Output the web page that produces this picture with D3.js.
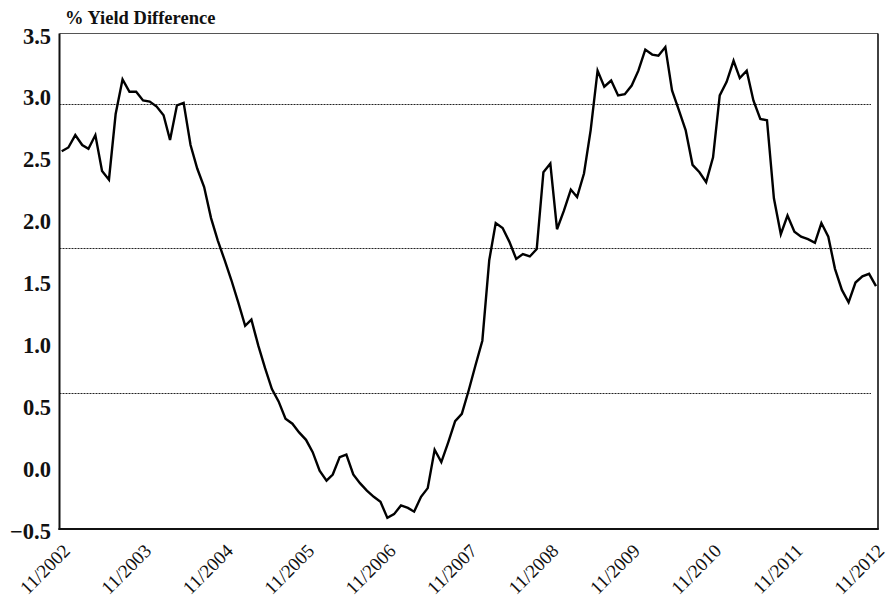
<!DOCTYPE html>
<html>
<head>
<meta charset="utf-8">
<script src="https://cdn.jsdelivr.net/npm/d3@7"></script>
</head>
<body style="margin:0">
<svg id="chart" width="888" height="600" font-family="serif"></svg>
<script>
// Monthly yield difference (%), November 2002 through November 2012
const startMonth = new Date(2002, 10, 1);
const yieldDiff = [
  2.55, 2.58, 2.68, 2.60, 2.57, 2.68, 2.39, 2.32, 2.85, 3.13,
  3.03, 3.03, 2.96, 2.95, 2.91, 2.84, 2.64, 2.92, 2.94, 2.60,
  2.41, 2.26, 2.01, 1.83, 1.67, 1.51, 1.33, 1.14, 1.19, 0.98,
  0.80, 0.63, 0.53, 0.39, 0.35, 0.28, 0.22, 0.12, -0.03, -0.11,
  -0.06, 0.08, 0.10, -0.06, -0.13, -0.19, -0.24, -0.28, -0.41, -0.38,
  -0.31, -0.33, -0.36, -0.24, -0.17, 0.14, 0.04, 0.20, 0.37, 0.43,
  0.62, 0.82, 1.02, 1.67, 1.97, 1.93, 1.82, 1.68, 1.72, 1.70,
  1.76, 2.38, 2.45, 1.92, 2.07, 2.24, 2.18, 2.37, 2.72, 3.20,
  3.07, 3.12, 3.00, 3.01, 3.08, 3.20, 3.37, 3.33, 3.32, 3.39,
  3.04, 2.88, 2.72, 2.44, 2.38, 2.30, 2.50, 3.00, 3.11, 3.28,
  3.14, 3.20, 2.96, 2.81, 2.80, 2.17, 1.88, 2.03, 1.90, 1.86,
  1.84, 1.81, 1.97, 1.86, 1.60, 1.43, 1.33, 1.49, 1.54, 1.56,
  1.46
];

// Reference levels (mean and one standard deviation either side)
const bandLevels = [2.93, 1.765, 0.60];

// Axis ticks
const yTicks = [-0.5, 0.0, 0.5, 1.0, 1.5, 2.0, 2.5, 3.0, 3.5];
const xTickYears = [2002, 2003, 2004, 2005, 2006, 2007, 2008, 2009, 2010, 2011, 2012];

const svg = d3.select("#chart");

const frame = { left: 59.5, right: 878, top: 33.5, bottom: 529 };

const dates = yieldDiff.map((_, i) => d3.timeMonth.offset(startMonth, i));
const series = yieldDiff.map((v, i) => ({ date: dates[i], value: v }));

const x = d3.scaleTime()
  .domain([dates[0], dates[dates.length - 1]])
  .range([61.7, 876]);

const y = d3.scaleLinear()
  .domain([-0.5, 3.5])
  .range([frame.bottom, frame.top]);

// Dotted reference lines
svg.append("g")
  .selectAll("line")
  .data(bandLevels)
  .join("line")
  .attr("x1", frame.left)
  .attr("x2", 871)
  .attr("y1", d => Math.round(y(d)) + 0.5)
  .attr("y2", d => Math.round(y(d)) + 0.5)
  .attr("stroke", "#222")
  .attr("stroke-width", 1)
  .attr("stroke-dasharray", "2,1");

// Frame: thin top edge, heavier left/bottom/right edges
svg.append("line")
  .attr("x1", frame.left).attr("x2", frame.right)
  .attr("y1", frame.top).attr("y2", frame.top)
  .attr("stroke", "#555").attr("stroke-width", 1.2);
svg.append("line")
  .attr("x1", frame.right).attr("x2", frame.right)
  .attr("y1", frame.top).attr("y2", frame.bottom)
  .attr("stroke", "#111").attr("stroke-width", 1.6);
svg.append("line")
  .attr("x1", frame.left).attr("x2", frame.left)
  .attr("y1", frame.top).attr("y2", frame.bottom + 1)
  .attr("stroke", "#111").attr("stroke-width", 2);
svg.append("line")
  .attr("x1", frame.left - 1).attr("x2", frame.right + 0.8)
  .attr("y1", frame.bottom).attr("y2", frame.bottom)
  .attr("stroke", "#111").attr("stroke-width", 2);

// Y axis labels
const yAxis = d3.axisLeft(y)
  .tickValues(yTicks)
  .tickSize(0)
  .tickPadding(0)
  .tickFormat(d3.format(".1f"));
const yg = svg.append("g")
  .attr("transform", "translate(51,0)")
  .call(yAxis)
  .attr("font-family", "serif")
  .attr("font-size", 22.5)
  .attr("font-weight", "bold");
yg.select(".domain").remove();
yg.selectAll("text")
  .attr("font-family", "serif")
  .attr("fill", "#111")
  .attr("dy", null)
  .attr("y", 2)
  .attr("dominant-baseline", "central");

// X axis labels, rotated
const xTickDates = xTickYears.map(yr => new Date(yr, 10, 1));
const xAxis = d3.axisBottom(x)
  .tickValues(xTickDates)
  .tickSize(0)
  .tickPadding(0)
  .tickFormat(d3.timeFormat("%m/%Y"));
const xg = svg.append("g")
  .attr("transform", `translate(0,${frame.bottom})`)
  .call(xAxis)
  .attr("font-family", "serif")
  .attr("font-size", 19);
xg.select(".domain").remove();
xg.selectAll("text")
  .attr("font-family", "serif")
  .attr("fill", "#111")
  .attr("y", null)
  .attr("dy", null)
  .attr("text-anchor", "end")
  .attr("transform", "translate(9,23) rotate(-45)");

// Series line
const seriesLine = d3.line()
  .x(d => x(d.date))
  .y(d => y(d.value));
svg.append("path")
  .datum(series)
  .attr("fill", "none")
  .attr("stroke", "#000")
  .attr("stroke-width", 2.4)
  .attr("stroke-linejoin", "miter")
  .attr("d", seriesLine);

// Axis title
svg.append("text")
  .attr("x", 65)
  .attr("y", 24)
  .attr("font-family", "serif")
  .attr("font-size", 18.5)
  .attr("font-weight", "bold")
  .attr("fill", "#111")
  .text("% Yield Difference");
</script>
</body>
</html>
